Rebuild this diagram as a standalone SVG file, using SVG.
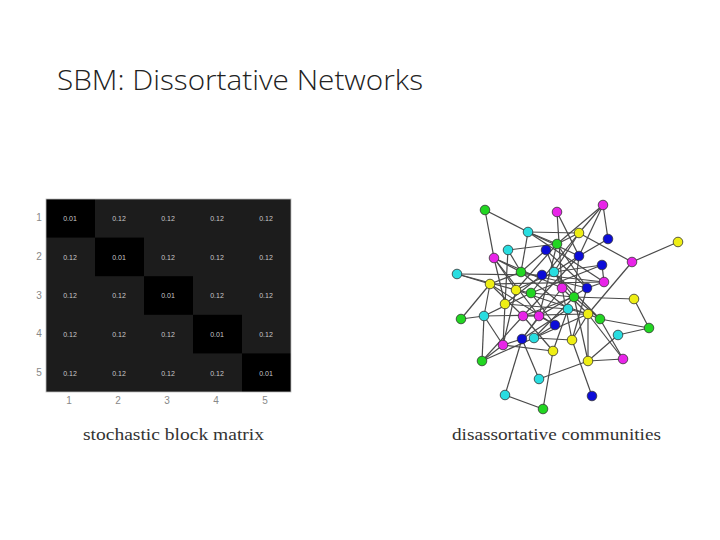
<svg xmlns="http://www.w3.org/2000/svg" width="720" height="540" viewBox="0 0 720 540">
<style>
.title{font-family:"Open Sans","Liberation Sans",sans-serif;font-size:28px;font-weight:300;fill:#222;}
.cap{font-family:"Liberation Serif","DejaVu Serif",serif;font-size:17px;fill:#333;}
.cell{font-family:"Liberation Sans",sans-serif;font-size:7px;fill:#c8c8c8;text-anchor:middle;}
.tick{font-family:"Liberation Sans",sans-serif;font-size:10px;fill:#888;text-anchor:middle;}
.off{fill:#1c1c1c;}
.diag{fill:#000;}
#edges line{stroke:#4a4a4a;stroke-width:1.2;}
.n circle{stroke:#333;stroke-width:0.8;}
.g{fill:#22d622;}.m{fill:#e824e8;}.c{fill:#28dde0;}.y{fill:#eeee14;}.b{fill:#0c0cd8;}
</style>
<rect width="720" height="540" fill="#fff"/>
<text class="title" x="57" y="90" textLength="366" lengthAdjust="spacingAndGlyphs">SBM: Dissortative Networks</text>

<g id="matrix">
<rect x="46" y="199" width="245" height="193" class="off"/>
<rect x="46" y="199" width="49" height="38.6" class="diag"/>
<rect x="95" y="237.6" width="49" height="38.6" class="diag"/>
<rect x="144" y="276.2" width="49" height="38.6" class="diag"/>
<rect x="193" y="314.8" width="49" height="38.6" class="diag"/>
<rect x="242" y="353.4" width="49" height="38.6" class="diag"/>
<rect x="46" y="199" width="245" height="193" fill="none" stroke="#bbb" stroke-width="0.8"/>
<g class="cell">
<text x="70" y="221">0.01</text><text x="119" y="221">0.12</text><text x="168" y="221">0.12</text><text x="217" y="221">0.12</text><text x="266" y="221">0.12</text>
<text x="70" y="260">0.12</text><text x="119" y="260">0.01</text><text x="168" y="260">0.12</text><text x="217" y="260">0.12</text><text x="266" y="260">0.12</text>
<text x="70" y="298">0.12</text><text x="119" y="298">0.12</text><text x="168" y="298">0.01</text><text x="217" y="298">0.12</text><text x="266" y="298">0.12</text>
<text x="70" y="337">0.12</text><text x="119" y="337">0.12</text><text x="168" y="337">0.12</text><text x="217" y="337">0.01</text><text x="266" y="337">0.12</text>
<text x="70" y="376">0.12</text><text x="119" y="376">0.12</text><text x="168" y="376">0.12</text><text x="217" y="376">0.12</text><text x="266" y="376">0.01</text>
</g>
<g class="tick">
<text x="39" y="221">1</text><text x="39" y="260">2</text><text x="39" y="299">3</text><text x="39" y="337">4</text><text x="39" y="376">5</text>
<text x="69" y="404">1</text><text x="118" y="404">2</text><text x="167" y="404">3</text><text x="216" y="404">4</text><text x="265" y="404">5</text>
</g>
</g>

<text class="cap" x="83" y="440" textLength="181" lengthAdjust="spacingAndGlyphs">stochastic block matrix</text>
<text class="cap" x="452" y="440" textLength="209" lengthAdjust="spacingAndGlyphs">disassortative communities</text>

<g id="edges">
<line x1="485" y1="210" x2="528" y2="232"/>
<line x1="485" y1="210" x2="494" y2="258"/>
<line x1="528" y1="232" x2="579" y2="233"/>
<line x1="528" y1="232" x2="557" y2="244"/>
<line x1="528" y1="232" x2="521" y2="272"/>
<line x1="528" y1="232" x2="579" y2="256"/>
<line x1="528" y1="232" x2="604" y2="282"/>
<line x1="557" y1="212" x2="579" y2="256"/>
<line x1="557" y1="212" x2="562" y2="288"/>
<line x1="603" y1="205" x2="579" y2="233"/>
<line x1="603" y1="205" x2="608" y2="239"/>
<line x1="603" y1="205" x2="557" y2="244"/>
<line x1="603" y1="205" x2="579" y2="256"/>
<line x1="579" y1="233" x2="632" y2="262"/>
<line x1="579" y1="233" x2="557" y2="244"/>
<line x1="579" y1="233" x2="531" y2="293"/>
<line x1="579" y1="233" x2="554" y2="272"/>
<line x1="678" y1="242" x2="632" y2="262"/>
<line x1="632" y1="262" x2="588" y2="314"/>
<line x1="608" y1="239" x2="579" y2="256"/>
<line x1="508" y1="250" x2="557" y2="244"/>
<line x1="508" y1="250" x2="521" y2="272"/>
<line x1="508" y1="250" x2="505" y2="304"/>
<line x1="546" y1="250" x2="521" y2="272"/>
<line x1="546" y1="250" x2="562" y2="288"/>
<line x1="546" y1="250" x2="587" y2="288"/>
<line x1="557" y1="244" x2="516" y2="290"/>
<line x1="557" y1="244" x2="539" y2="316"/>
<line x1="557" y1="244" x2="587" y2="288"/>
<line x1="579" y1="256" x2="554" y2="272"/>
<line x1="579" y1="256" x2="523" y2="316"/>
<line x1="579" y1="256" x2="574" y2="297"/>
<line x1="494" y1="258" x2="521" y2="272"/>
<line x1="494" y1="258" x2="516" y2="290"/>
<line x1="494" y1="258" x2="505" y2="304"/>
<line x1="494" y1="258" x2="562" y2="288"/>
<line x1="494" y1="258" x2="539" y2="316"/>
<line x1="602" y1="265" x2="554" y2="272"/>
<line x1="602" y1="265" x2="531" y2="293"/>
<line x1="602" y1="265" x2="604" y2="282"/>
<line x1="457" y1="274" x2="490" y2="284"/>
<line x1="457" y1="274" x2="542" y2="275"/>
<line x1="457" y1="274" x2="516" y2="290"/>
<line x1="490" y1="284" x2="461" y2="319"/>
<line x1="490" y1="284" x2="484" y2="316"/>
<line x1="490" y1="284" x2="521" y2="272"/>
<line x1="490" y1="284" x2="523" y2="316"/>
<line x1="490" y1="284" x2="604" y2="282"/>
<line x1="490" y1="284" x2="555" y2="325"/>
<line x1="521" y1="272" x2="587" y2="288"/>
<line x1="521" y1="272" x2="568" y2="309"/>
<line x1="542" y1="275" x2="604" y2="282"/>
<line x1="542" y1="275" x2="505" y2="304"/>
<line x1="554" y1="272" x2="574" y2="297"/>
<line x1="554" y1="272" x2="516" y2="290"/>
<line x1="554" y1="272" x2="600" y2="319"/>
<line x1="516" y1="290" x2="531" y2="293"/>
<line x1="516" y1="290" x2="503" y2="345"/>
<line x1="516" y1="290" x2="588" y2="314"/>
<line x1="531" y1="293" x2="574" y2="297"/>
<line x1="531" y1="293" x2="555" y2="325"/>
<line x1="531" y1="293" x2="484" y2="316"/>
<line x1="562" y1="288" x2="588" y2="314"/>
<line x1="562" y1="288" x2="522" y2="339"/>
<line x1="587" y1="288" x2="539" y2="316"/>
<line x1="587" y1="288" x2="572" y2="340"/>
<line x1="587" y1="288" x2="604" y2="282"/>
<line x1="574" y1="297" x2="634" y2="299"/>
<line x1="574" y1="297" x2="600" y2="319"/>
<line x1="574" y1="297" x2="534" y2="338"/>
<line x1="574" y1="297" x2="523" y2="316"/>
<line x1="634" y1="299" x2="649" y2="328"/>
<line x1="505" y1="304" x2="503" y2="345"/>
<line x1="505" y1="304" x2="568" y2="309"/>
<line x1="461" y1="319" x2="484" y2="316"/>
<line x1="484" y1="316" x2="588" y2="314"/>
<line x1="484" y1="316" x2="482" y2="361"/>
<line x1="484" y1="316" x2="503" y2="345"/>
<line x1="523" y1="316" x2="539" y2="316"/>
<line x1="523" y1="316" x2="482" y2="361"/>
<line x1="523" y1="316" x2="553" y2="351"/>
<line x1="539" y1="316" x2="555" y2="325"/>
<line x1="539" y1="316" x2="522" y2="339"/>
<line x1="568" y1="309" x2="522" y2="339"/>
<line x1="568" y1="309" x2="588" y2="314"/>
<line x1="568" y1="309" x2="553" y2="351"/>
<line x1="588" y1="314" x2="600" y2="319"/>
<line x1="588" y1="314" x2="534" y2="338"/>
<line x1="588" y1="314" x2="588" y2="361"/>
<line x1="588" y1="314" x2="623" y2="359"/>
<line x1="588" y1="314" x2="572" y2="340"/>
<line x1="600" y1="319" x2="649" y2="328"/>
<line x1="600" y1="319" x2="623" y2="359"/>
<line x1="649" y1="328" x2="618" y2="335"/>
<line x1="618" y1="335" x2="588" y2="361"/>
<line x1="588" y1="361" x2="623" y2="359"/>
<line x1="588" y1="361" x2="539" y2="379"/>
<line x1="588" y1="361" x2="574" y2="297"/>
<line x1="534" y1="338" x2="572" y2="340"/>
<line x1="555" y1="325" x2="534" y2="338"/>
<line x1="522" y1="339" x2="503" y2="345"/>
<line x1="522" y1="339" x2="539" y2="379"/>
<line x1="522" y1="339" x2="505" y2="395"/>
<line x1="503" y1="345" x2="553" y2="351"/>
<line x1="503" y1="345" x2="482" y2="361"/>
<line x1="482" y1="361" x2="534" y2="338"/>
<line x1="553" y1="351" x2="543" y2="409"/>
<line x1="572" y1="340" x2="592" y2="396"/>
<line x1="572" y1="340" x2="562" y2="288"/>
<line x1="505" y1="395" x2="543" y2="409"/>
</g>

<g id="nodes">
<g id="n1" class="n"><circle cx="485" cy="210" r="4.8" class="g"/></g>
<g id="n2" class="n"><circle cx="557" cy="212" r="4.8" class="m"/></g>
<g id="n3" class="n"><circle cx="603" cy="205" r="4.8" class="m"/></g>
<g id="n4" class="n"><circle cx="528" cy="232" r="4.8" class="c"/></g>
<g id="n5" class="n"><circle cx="579" cy="233" r="4.8" class="y"/></g>
<g id="n6" class="n"><circle cx="608" cy="239" r="4.8" class="b"/></g>
<g id="n7" class="n"><circle cx="678" cy="242" r="4.8" class="y"/></g>
<g id="n8" class="n"><circle cx="508" cy="250" r="4.8" class="c"/></g>
<g id="n9" class="n"><circle cx="546" cy="250" r="4.8" class="b"/></g>
<g id="n10" class="n"><circle cx="557" cy="244" r="4.8" class="g"/></g>
<g id="n11" class="n"><circle cx="579" cy="256" r="4.8" class="b"/></g>
<g id="n12" class="n"><circle cx="494" cy="258" r="4.8" class="m"/></g>
<g id="n13" class="n"><circle cx="632" cy="262" r="4.8" class="m"/></g>
<g id="n14" class="n"><circle cx="602" cy="265" r="4.8" class="b"/></g>
<g id="n15" class="n"><circle cx="457" cy="274" r="4.8" class="c"/></g>
<g id="n16" class="n"><circle cx="521" cy="272" r="4.8" class="g"/></g>
<g id="n17" class="n"><circle cx="542" cy="275" r="4.8" class="b"/></g>
<g id="n18" class="n"><circle cx="554" cy="272" r="4.8" class="c"/></g>
<g id="n19" class="n"><circle cx="604" cy="282" r="4.8" class="m"/></g>
<g id="n20" class="n"><circle cx="490" cy="284" r="4.8" class="y"/></g>
<g id="n21" class="n"><circle cx="516" cy="290" r="4.8" class="y"/></g>
<g id="n22" class="n"><circle cx="531" cy="293" r="4.8" class="g"/></g>
<g id="n23" class="n"><circle cx="562" cy="288" r="4.8" class="m"/></g>
<g id="n24" class="n"><circle cx="587" cy="288" r="4.8" class="b"/></g>
<g id="n25" class="n"><circle cx="574" cy="297" r="4.8" class="g"/></g>
<g id="n26" class="n"><circle cx="634" cy="299" r="4.8" class="y"/></g>
<g id="n27" class="n"><circle cx="505" cy="304" r="4.8" class="y"/></g>
<g id="n28" class="n"><circle cx="461" cy="319" r="4.8" class="g"/></g>
<g id="n29" class="n"><circle cx="484" cy="316" r="4.8" class="c"/></g>
<g id="n30" class="n"><circle cx="523" cy="316" r="4.8" class="m"/></g>
<g id="n31" class="n"><circle cx="539" cy="316" r="4.8" class="m"/></g>
<g id="n32" class="n"><circle cx="568" cy="309" r="4.8" class="c"/></g>
<g id="n33" class="n"><circle cx="588" cy="314" r="4.8" class="y"/></g>
<g id="n34" class="n"><circle cx="600" cy="319" r="4.8" class="g"/></g>
<g id="n35" class="n"><circle cx="555" cy="325" r="4.8" class="b"/></g>
<g id="n36" class="n"><circle cx="649" cy="328" r="4.8" class="g"/></g>
<g id="n37" class="n"><circle cx="618" cy="335" r="4.8" class="c"/></g>
<g id="n38" class="n"><circle cx="534" cy="338" r="4.8" class="c"/></g>
<g id="n39" class="n"><circle cx="522" cy="339" r="4.8" class="b"/></g>
<g id="n40" class="n"><circle cx="503" cy="345" r="4.8" class="m"/></g>
<g id="n41" class="n"><circle cx="572" cy="340" r="4.8" class="y"/></g>
<g id="n42" class="n"><circle cx="553" cy="351" r="4.8" class="y"/></g>
<g id="n43" class="n"><circle cx="482" cy="361" r="4.8" class="g"/></g>
<g id="n44" class="n"><circle cx="588" cy="361" r="4.8" class="y"/></g>
<g id="n45" class="n"><circle cx="623" cy="359" r="4.8" class="m"/></g>
<g id="n46" class="n"><circle cx="539" cy="379" r="4.8" class="c"/></g>
<g id="n47" class="n"><circle cx="505" cy="395" r="4.8" class="c"/></g>
<g id="n48" class="n"><circle cx="592" cy="396" r="4.8" class="b"/></g>
<g id="n49" class="n"><circle cx="543" cy="409" r="4.8" class="g"/></g>
</g>
</svg>
